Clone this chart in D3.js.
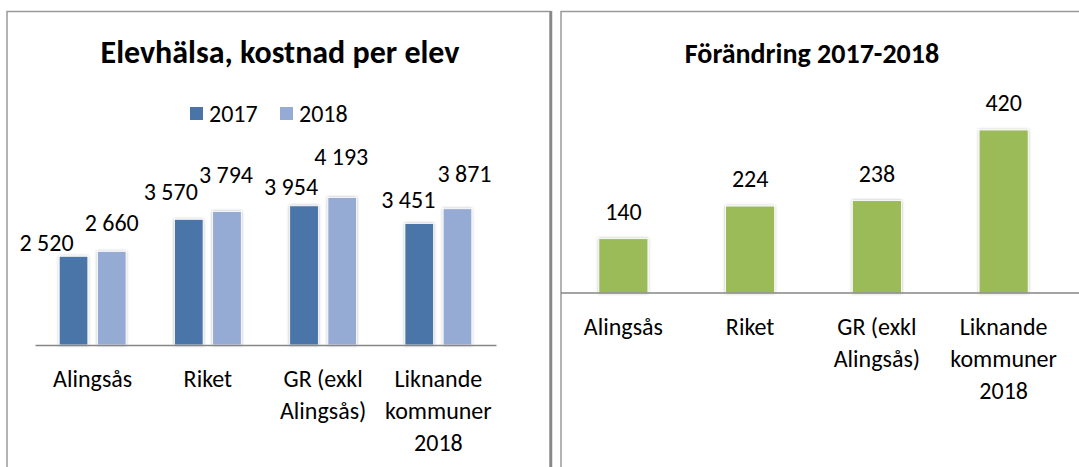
<!DOCTYPE html>
<html>
<head>
<meta charset="utf-8">
<script src="https://cdn.jsdelivr.net/npm/d3@7"></script>
<style>
  body { margin: 0; background: #fff; }
  svg text { font-family: Carlito, Calibri, Lato, sans-serif; fill: #000; }
</style>
</head>
<body>
<div id="chart"></div>
<script>
// Data
const categories = ["Alingsås", "Riket", "GR (exkl\nAlingsås)", "Liknande\nkommuner\n2018"];
const years = ["2017", "2018"];
const cost2017 = [2520, 3570, 3954, 3451];
const cost2018 = [2660, 3794, 4193, 3871];
const change = [140, 224, 238, 420];

// label nudges (Excel placed them a bit off)
const nudge2017 = [[-27, 5], [-18, 19], [-13, 11], [-11, 16]];
const nudge2018 = [[0, 20], [-1, 28], [-1, 32], [7, 27]];

const width = 1079, height = 467;
const colors = {"2017": "#4a74a8", "2018": "#95abd3"};
const green = "#9bbb59";

const fmt = d3.formatLocale({decimal: ",", thousands: " ", grouping: [3], currency: ["", " kr"]}).format(",d");

const svg = d3.select("#chart")
  .append("svg")
  .attr("width", width)
  .attr("height", height);

svg.append("rect").attr("width", width).attr("height", height).attr("fill", "#fff");

// soft shadow for bars
const defs = svg.append("defs");
const f = defs.append("filter").attr("id", "shadow")
  .attr("x", "-30%").attr("y", "-10%").attr("width", "160%").attr("height", "120%");
f.append("feDropShadow")
  .attr("dx", 0).attr("dy", 0)
  .attr("stdDeviation", 1.6)
  .attr("flood-color", "#000")
  .attr("flood-opacity", 0.3);

// Panel frames
svg.append("rect")
  .attr("x", 7).attr("y", 11.5)
  .attr("width", 543).attr("height", 480)
  .attr("fill", "none")
  .attr("stroke", "#9a9a9a")
  .attr("stroke-width", 1.5);
svg.append("line")
  .attr("x1", 551).attr("x2", 551).attr("y1", 11).attr("y2", height)
  .attr("stroke", "#888").attr("stroke-width", 2.5);

svg.append("rect")
  .attr("x", 561).attr("y", 11.5)
  .attr("width", 600).attr("height", 480)
  .attr("fill", "none")
  .attr("stroke", "#9a9a9a")
  .attr("stroke-width", 1.5);

function catLabels(g, x, y0) {
  categories.forEach((c, i) => {
    const t = g.append("text")
      .attr("text-anchor", "middle")
      .attr("font-size", "24px");
    c.split("\n").forEach((line, j) => {
      t.append("tspan")
        .attr("x", x(c) + x.bandwidth() / 2)
        .attr("y", y0 + j * 32)
        .text(line);
    });
  });
}

// ---------- Left chart: Elevhälsa, kostnad per elev ----------
const left = svg.append("g");

left.append("text")
  .attr("x", 280).attr("y", 63)
  .attr("text-anchor", "middle")
  .attr("font-size", "32px")
  .attr("font-weight", "bold")
  .text("Elevhälsa, kostnad per elev");

// legend
const legendX = [190, 280];
years.forEach((yr, i) => {
  left.append("rect")
    .attr("x", legendX[i]).attr("y", 107)
    .attr("width", 13).attr("height", 13)
    .attr("fill", colors[yr]);
  left.append("text")
    .attr("x", legendX[i] + 19).attr("y", 122)
    .attr("font-size", "24px")
    .text(yr);
});

const x0 = d3.scaleBand()
  .domain(categories)
  .range([35, 496])
  .paddingInner(0.42)
  .paddingOuter(0.21);

const x1 = d3.scaleBand()
  .domain(years)
  .range([0, x0.bandwidth()])
  .paddingInner(0.25);

const yL = d3.scaleLinear()
  .domain([0, 5000])
  .range([345, 169]);

const series = {"2017": cost2017, "2018": cost2018};
const nudges = {"2017": nudge2017, "2018": nudge2018};

years.forEach(yr => {
  left.selectAll(".bar" + yr)
    .data(series[yr])
    .join("rect")
    .attr("x", (d, i) => x0(categories[i]) + x1(yr))
    .attr("y", d => yL(d))
    .attr("width", x1.bandwidth())
    .attr("height", d => yL(0) - yL(d))
    .attr("fill", colors[yr])
    .attr("stroke", "#fff")
    .attr("stroke-width", 0.8)
    .attr("filter", "url(#shadow)");

  left.selectAll(".lab" + yr)
    .data(series[yr])
    .join("text")
    .attr("x", (d, i) => x0(categories[i]) + x1(yr) + x1.bandwidth() / 2 + nudges[yr][i][0])
    .attr("y", (d, i) => yL(d) - nudges[yr][i][1])
    .attr("text-anchor", "middle")
    .attr("font-size", "24px")
    .text(d => fmt(d));
});

left.append("g")
  .attr("transform", `translate(0,${yL(0)})`)
  .call(d3.axisBottom(x0).tickSize(0).tickSizeOuter(0).tickFormat(""))
  .call(g => g.select(".domain").attr("stroke", "#868686").attr("stroke-width", 1.5));

catLabels(left, x0, 387);

// ---------- Right chart: Förändring 2017-2018 ----------
const right = svg.append("g");

right.append("text")
  .attr("x", 812).attr("y", 63)
  .attr("text-anchor", "middle")
  .attr("font-size", "28px")
  .attr("font-weight", "bold")
  .text("Förändring 2017-2018");

const xR = d3.scaleBand()
  .domain(categories)
  .range([560, 1067])
  .paddingInner(0.613)
  .paddingOuter(0.3065);

const yR = d3.scaleLinear()
  .domain([0, 420])
  .range([293, 130]);

right.selectAll(".barR")
  .data(change)
  .join("rect")
  .attr("x", (d, i) => xR(categories[i]))
  .attr("y", d => yR(d))
  .attr("width", xR.bandwidth())
  .attr("height", d => yR(0) - yR(d))
  .attr("fill", green)
  .attr("stroke", "#fff")
  .attr("stroke-width", 0.8)
  .attr("filter", "url(#shadow)");

right.selectAll(".labR")
  .data(change)
  .join("text")
  .attr("x", (d, i) => xR(categories[i]) + xR.bandwidth() / 2)
  .attr("y", d => yR(d) - 19)
  .attr("text-anchor", "middle")
  .attr("font-size", "24px")
  .text(d => fmt(d));

right.append("line")
  .attr("x1", 561).attr("x2", width)
  .attr("y1", yR(0)).attr("y2", yR(0))
  .attr("stroke", "#868686")
  .attr("stroke-width", 1.5);

catLabels(right, xR, 335);
</script>
</body>
</html>
